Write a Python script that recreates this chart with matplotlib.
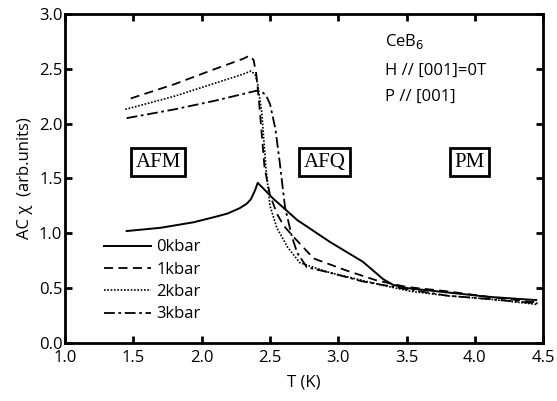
import matplotlib
matplotlib.use("Agg")
import matplotlib.pyplot as plt

# ---- data ----
T0 = [1.45, 1.70, 1.94, 2.10, 2.19, 2.28, 2.33, 2.36, 2.39, 2.41, 2.45, 2.52, 2.70, 2.94, 3.18, 3.33, 3.40, 3.50, 3.80, 4.10, 4.45]
y0 = [1.02, 1.05, 1.10, 1.15, 1.18, 1.23, 1.27, 1.31, 1.39, 1.46, 1.41, 1.32, 1.12, 0.92, 0.74, 0.58, 0.53, 0.50, 0.46, 0.42, 0.39]

T1 = [1.48, 1.80, 2.10, 2.30, 2.35, 2.38, 2.40, 2.42, 2.46, 2.50, 2.55, 2.60, 2.67, 2.82, 3.06, 3.28, 3.50, 3.80, 4.10, 4.45]
y1 = [2.23, 2.36, 2.50, 2.59, 2.62, 2.58, 2.45, 2.20, 1.60, 1.35, 1.18, 1.07, 0.97, 0.77, 0.66, 0.57, 0.51, 0.47, 0.42, 0.37]

T2 = [1.44, 1.80, 2.10, 2.30, 2.36, 2.39, 2.41, 2.44, 2.47, 2.50, 2.55, 2.63, 2.72, 2.94, 3.31, 3.53, 3.80, 4.10, 4.46]
y2 = [2.13, 2.25, 2.37, 2.45, 2.48, 2.45, 2.36, 2.10, 1.60, 1.25, 1.05, 0.87, 0.73, 0.64, 0.53, 0.47, 0.43, 0.40, 0.35]

T3 = [1.45, 1.80, 2.10, 2.30, 2.40, 2.44, 2.47, 2.50, 2.54, 2.57, 2.61, 2.66, 2.70, 2.77, 2.94, 3.18, 3.50, 3.80, 4.10, 4.46]
y3 = [2.05, 2.13, 2.21, 2.27, 2.30, 2.29, 2.26, 2.18, 1.95, 1.66, 1.24, 0.97, 0.82, 0.69, 0.64, 0.56, 0.49, 0.43, 0.40, 0.36]

labels = ["0kbar", "1kbar", "2kbar", "3kbar"]
xticks = [1.0, 1.5, 2.0, 2.5, 3.0, 3.5, 4.0, 4.5]
yticks = [0.0, 0.5, 1.0, 1.5, 2.0, 2.5, 3.0]
phases = ["AFM", "AFQ", "PM"]
phase_T = [1.68, 2.90, 3.96]
phase_y = 1.65

plt.rcParams['font.family'] = ['Open Sans', 'DejaVu Sans']

fig = plt.figure(figsize=(5.57, 4.01), dpi=100)
ax = fig.add_axes([0.117, 0.145, 0.858, 0.82])

ax.plot(T0, y0, color='black', lw=1.4, linestyle='-', label=labels[0])
ax.plot(T1, y1, color='black', lw=1.3, linestyle=(0, (5, 3)), label=labels[1])
ax.plot(T2, y2, color='black', lw=1.2, linestyle=(0, (1, 1)), label=labels[2])
ax.plot(T3, y3, color='black', lw=1.3, linestyle=(0, (6, 2, 1.5, 2)), label=labels[3])

ax.set_xlim(1.0, 4.5)
ax.set_ylim(0.0, 3.0)
ax.set_xticks(xticks)
ax.set_yticks(yticks)
ax.set_xticklabels([f"{v:.1f}" for v in xticks])
ax.set_yticklabels([f"{v:.1f}" for v in yticks])
ax.tick_params(direction='in', length=5, width=2, top=True, right=True,
               labelsize=12)
ax.tick_params(axis='x', pad=5)
ax.tick_params(axis='y', pad=2)
for s in ax.spines.values():
    s.set_linewidth(2)

ax.set_xlabel("T (K)", fontsize=12, labelpad=6)
ax.set_ylabel("AC χ  (arb.units)", fontsize=12, labelpad=4)

for name, tx in zip(phases, phase_T):
    ax.text(tx, phase_y, name, ha='center', va='center', fontsize=15,
            family='Liberation Serif',
            bbox=dict(boxstyle='square,pad=0.22', facecolor='white',
                      edgecolor='black', linewidth=2))

ax.text(3.34, 2.75, "CeB$_6$", fontsize=12, ha='left', va='center')
ax.text(3.34, 2.48, "H // [001]=0T", fontsize=12, ha='left', va='center')
ax.text(3.34, 2.24, "P // [001]", fontsize=12, ha='left', va='center')

ax.legend(loc='upper left', bbox_to_anchor=(0.06, 0.345), frameon=False,
          fontsize=12, handlelength=2.8, handletextpad=0.35, labelspacing=0.38,
          borderpad=0.1)

fig.savefig("out.png", dpi=100)
